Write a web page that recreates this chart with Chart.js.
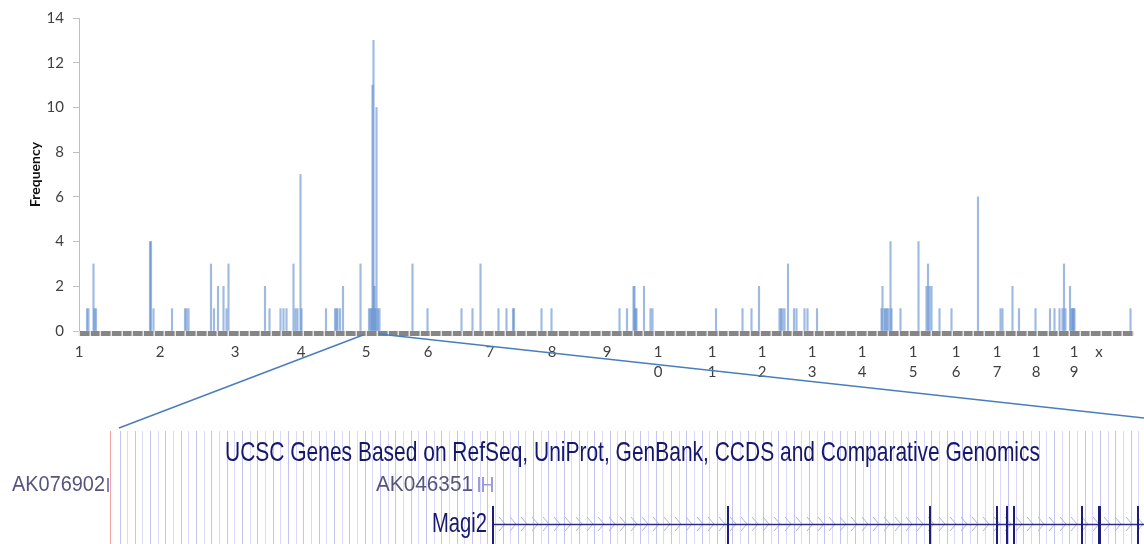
<!DOCTYPE html>
<html>
<head>
<meta charset="utf-8">
<script src="https://cdn.jsdelivr.net/npm/chart.js@4.4.1/dist/chart.umd.min.js"></script>
<style>
  html, body { margin: 0; padding: 0; background: #fff; }
  #wrap { width: 1144px; height: 544px; position: relative; }
</style>
</head>
<body>
<div id="wrap"><canvas id="freqChart"></canvas></div>
<script>
"use strict";

// chromosomes along the genome axis (axis units)
const chromLabels = ["1", "2", "3", "4", "5", "6", "7", "8", "9", "10",
  "11", "12", "13", "14", "15", "16", "17", "18", "19", "x"];
const chromStarts = [0, 81, 156, 222, 287, 349, 411, 473, 528, 579,
  633, 683, 733, 783, 834, 877, 918, 957, 995, 1020];
const genomeEnd = 1054;

// insertion sites: position on the genome axis and frequency
const sitePos = [
  8, 9.5, 14.5, 15.5, 17, 71, 72, 74.5, 93, 106, 107.5, 109.5,
  132, 135, 139, 144.5, 147.5, 149.5, 186, 190.5, 201.5, 204.5, 207.5,
  214.5, 216.5, 218.5, 221.5, 222.5, 247, 256, 257.5, 258.5, 261, 264, 281.5,
  290, 291.5, 292.5, 293.5, 294.5, 295.5, 296.5, 297.5, 299, 300.5,
  333.5, 348.5, 382.5, 393.5, 401.5, 419.5, 427.5, 434, 435, 462.5, 472.5,
  540.5, 548, 554.5, 555.5, 556.5, 557.5, 565, 571.5, 573.5,
  637, 663.5, 672.5, 680, 700.5, 702, 703.5, 705.5, 709, 715, 717.5, 725.5, 728.5, 738,
  802.5, 803.5, 805.5, 806.5, 808, 809.5, 811.5, 812.5, 821.5, 839.5,
  847.5, 849, 850.5, 852.5, 860.5, 872.5, 899, 921.5, 923.5, 933.5, 940, 956.5,
  971, 975.5, 980.5, 983.5, 985, 986.5, 991, 992.5, 993.5, 994.5, 995.5, 1051.5
];
const siteFreq = [
  1, 1, 3, 1, 1, 4, 4, 1, 1, 1, 1, 1,
  3, 1, 2, 2, 1, 3, 2, 1, 1, 1, 1,
  3, 1, 1, 7, 1, 1, 1, 1, 1, 1, 2, 3,
  1, 1, 1, 11, 13, 2, 1, 10, 1, 1,
  3, 1, 1, 1, 3, 1, 1, 1, 1, 1, 1,
  1, 1, 2, 2, 1, 1, 2, 1, 1,
  1, 1, 1, 2, 1, 1, 1, 1, 3, 1, 1, 1, 1, 1,
  1, 2, 1, 1, 1, 1, 4, 1, 1, 4,
  2, 3, 2, 2, 1, 1, 6, 1, 1, 2, 1, 1,
  1, 1, 1, 1, 3, 1, 2, 1, 1, 1, 1, 1
];

// chr5 stretch blown up in the UCSC panel
const zoomRegion = [284, 300];
const magi2Exons = [728, 930, 997, 1007, 1014, 1082, 1099, 1138];

const tickFont = { family: "Lato", size: 15 };

function fitText(ctx, text, x, y, w, font, color) {
  ctx.font = font;
  const m = ctx.measureText(text).width;
  ctx.save();
  ctx.translate(x, y);
  ctx.scale(w / m, 1);
  ctx.fillStyle = color;
  ctx.textBaseline = "alphabetic";
  ctx.fillText(text, 0, 0);
  ctx.restore();
}

const axisBand = {
  id: "axisBand",
  afterDatasetsDraw(chart) {
    const { ctx, chartArea: a } = chart;
    const segs = 99;
    const w = (a.right - a.left) / segs;
    ctx.save();
    ctx.fillStyle = "#868686";
    ctx.fillRect(a.left, a.bottom, a.right - a.left, 5);
    ctx.fillStyle = "#e4e4e4";
    for (let k = 0; k <= segs; k++) {
      ctx.fillRect(Math.round(a.left + k * w) - 0.5, a.bottom, 1.5, 5);
    }
    ctx.restore();
  },
};

const ucscPanel = {
  id: "ucscPanel",
  afterDraw(chart) {
    const { ctx, scales } = chart;
    const x = scales.x;
    ctx.save();

    // lavender base grid of the browser image
    let k = 0;
    for (let px = 119.5; px < 1144; px += 7.66, k++) {
      ctx.strokeStyle = k % 2 ? "#dadaf8" : "#c4c4f0";
      ctx.lineWidth = 1;
      ctx.beginPath();
      ctx.moveTo(Math.round(px) + 0.5, 431);
      ctx.lineTo(Math.round(px) + 0.5, 544);
      ctx.stroke();
    }
    ctx.strokeStyle = "#f2a4a4";
    ctx.beginPath();
    ctx.moveTo(110.5, 431);
    ctx.lineTo(110.5, 544);
    ctx.stroke();

    // zoom lines
    ctx.strokeStyle = "#4a7ebb";
    ctx.lineWidth = 1.5;
    ctx.beginPath();
    ctx.moveTo(x.getPixelForValue(zoomRegion[0]), 335);
    ctx.lineTo(119, 428);
    ctx.moveTo(x.getPixelForValue(zoomRegion[1]), 334);
    ctx.lineTo(1144, 418);
    ctx.stroke();

    fitText(ctx, "UCSC Genes Based on RefSeq, UniProt, GenBank, CCDS and Comparative Genomics",
      225, 461, 815, "28px 'Liberation Sans'", "#16166c");
    fitText(ctx, "AK076902", 12, 491, 93, "22px 'Liberation Sans'", "#55557e");
    fitText(ctx, "AK046351", 376, 491, 97, "22px 'Liberation Sans'", "#55557e");
    fitText(ctx, "Magi2", 432, 532, 55, "28px 'Liberation Sans'", "#1a1a6a");

    ctx.fillStyle = "#8484b4";
    ctx.fillRect(107, 478, 2, 14);
    ctx.fillStyle = "#9c9cd8";
    ctx.fillRect(478, 477, 2, 15);
    ctx.fillRect(482, 477, 2, 15);
    ctx.fillRect(484, 484, 8, 1.5);
    ctx.fillRect(491, 477, 2, 15);

    // Magi2 gene model
    ctx.strokeStyle = "#b0b0e0";
    ctx.lineWidth = 1;
    for (let cx = 502; cx < 1144; cx += 11) {
      ctx.beginPath();
      ctx.moveTo(cx - 3, 517);
      ctx.lineTo(cx + 3, 524);
      ctx.lineTo(cx - 3, 531);
      ctx.stroke();
    }
    ctx.strokeStyle = "#2c2c86";
    ctx.lineWidth = 1.5;
    ctx.beginPath();
    ctx.moveTo(493, 524.5);
    ctx.lineTo(1144, 524.5);
    ctx.stroke();
    ctx.fillStyle = "#1e1e78";
    ctx.fillRect(492, 506, 2, 38);
    magi2Exons.forEach((ex) => {
      ctx.fillRect(ex - 1, 506, ex === 1099 ? 3 : 2, 38);
    });
    ctx.restore();
  },
};

const ctx = document.getElementById("freqChart").getContext("2d");

new Chart(ctx, {
  type: "bar",
  data: {
    datasets: [
      {
        data: sitePos.map((p, i) => ({ x: p, y: siteFreq[i] })),
        backgroundColor: "rgba(79, 129, 200, 0.55)",
        borderWidth: 0,
        barThickness: 1.5,
      },
    ],
  },
  options: {
    responsive: true,
    maintainAspectRatio: false,
    animation: false,
    layout: {
      padding: { top: 14, right: 11, left: 0, bottom: 0 },
    },
    plugins: {
      legend: { display: false },
      tooltip: { enabled: false },
    },
    scales: {
      x: {
        type: "linear",
        min: 0,
        max: genomeEnd,
        offset: false,
        afterFit: (scale) => {
          scale.height = 213;
        },
        afterBuildTicks: (scale) => {
          scale.ticks = chromStarts.map((v) => ({ value: v }));
        },
        grid: { display: false },
        border: { display: false },
        ticks: {
          autoSkip: false,
          maxRotation: 0,
          padding: 3,
          color: "#404040",
          font: { family: "Lato", size: 15, lineHeight: 1.33 },
          callback: (val, i) => {
            const s = chromLabels[i];
            return s.length > 1 ? s.split("") : s;
          },
        },
      },
      y: {
        min: 0,
        max: 14,
        afterFit: (scale) => {
          scale.width = 79;
        },
        grid: {
          drawOnChartArea: false,
          drawTicks: true,
          tickLength: 6,
          color: "#bfbfbf",
        },
        border: { color: "#bfbfbf" },
        ticks: {
          stepSize: 2,
          padding: 9,
          color: "#404040",
          font: tickFont,
        },
        title: {
          display: true,
          text: "Frequency",
          color: "#111111",
          font: { family: "Lato", size: 14, weight: "bold" },
          padding: { top: 27, bottom: 0 },
        },
      },
    },
  },
  plugins: [axisBand, ucscPanel],
});
</script>
</body>
</html>
